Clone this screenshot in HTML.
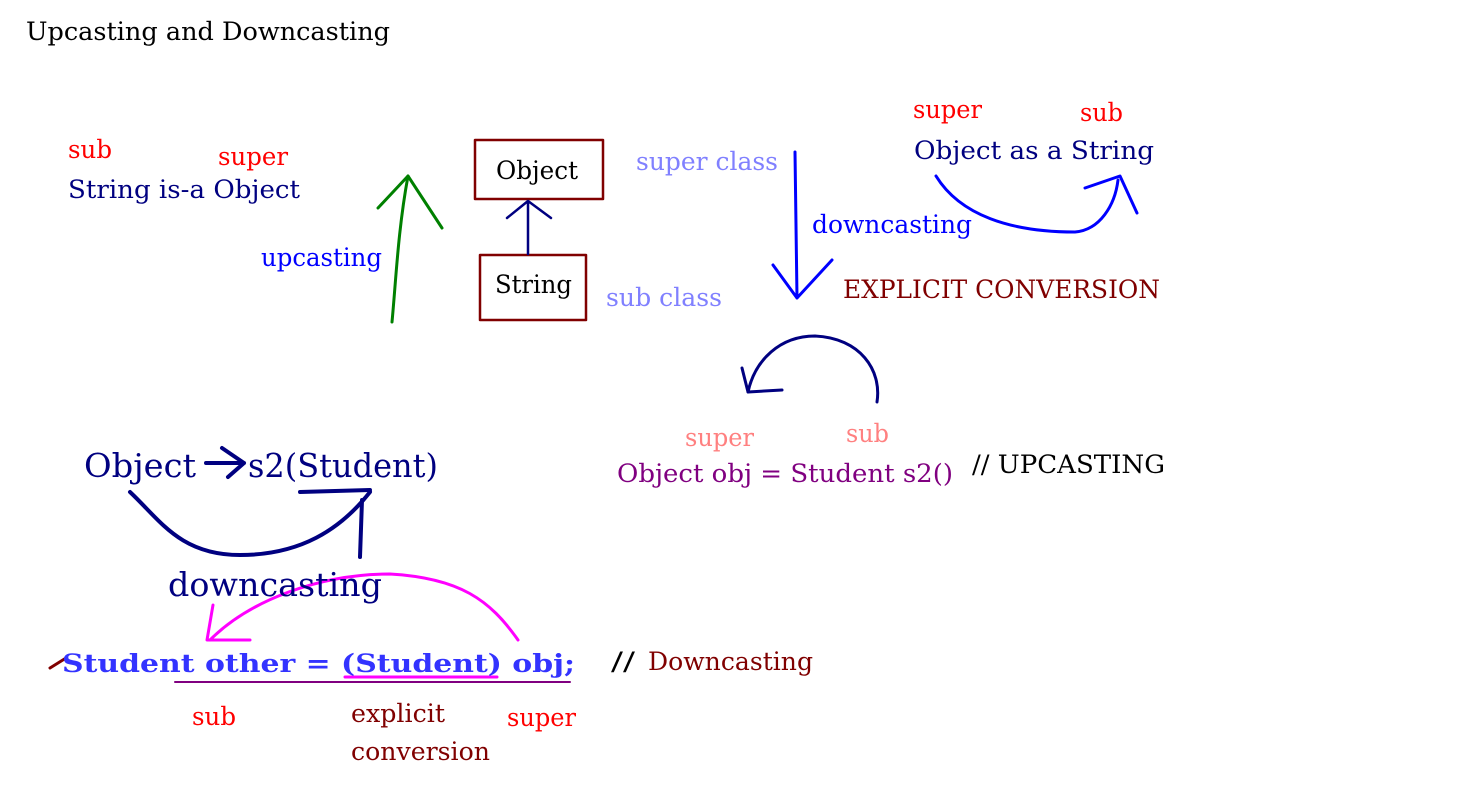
<!DOCTYPE html>
<html><head><meta charset="utf-8"><style>
html,body{margin:0;padding:0;background:#fff;}
svg{display:block;}
text{font-family:"DejaVu Serif","Liberation Serif",serif;font-size:25px;}
</style></head><body>
<svg width="1481" height="795" viewBox="0 0 1481 795" xmlns="http://www.w3.org/2000/svg">
<g fill="none" stroke-linecap="round" stroke-linejoin="round">
<path d="M392,322 C396,280 398,230 408,176" stroke="#008000" stroke-width="3"/>
<path d="M378,208 L408,176 L442,228" stroke="#008000" stroke-width="3"/>
<rect x="475" y="140" width="128" height="59" stroke="#800000" stroke-width="2.5"/>
<rect x="480" y="255" width="106" height="65" stroke="#800000" stroke-width="2.5"/>
<path d="M528,254 L528,201 M507,218 L528,201 L551,218" stroke="#000080" stroke-width="2.5"/>
<path d="M795,152 L797,298 M773,265 L797,298 L832,260" stroke="#0000ff" stroke-width="3"/>
<path d="M936,176 C960,215 1010,232 1075,232 C1100,230 1115,205 1118,180" stroke="#0000ff" stroke-width="3"/>
<path d="M1085,188 L1120,176 L1137,213" stroke="#0000ff" stroke-width="3"/>
<path d="M877,402 C882,370 860,338 815,336 C780,336 755,360 748,392" stroke="#000080" stroke-width="3"/>
<path d="M742,368 L748,392 L782,390" stroke="#000080" stroke-width="3"/>
<path d="M206,463 L244,463 M222,448 L244,463 L228,477" stroke="#000080" stroke-width="4"/>
<path d="M130,492 C160,520 180,555 240,555 C300,555 340,530 370,492" stroke="#000080" stroke-width="4"/>
<path d="M300,492 L370,490 M360,557 L362,500" stroke="#000080" stroke-width="4"/>
<path d="M518,640 C490,600 460,578 390,574 C320,574 250,600 210,640" stroke="#ff00ff" stroke-width="3"/>
<path d="M213,605 L207,640 L250,640" stroke="#ff00ff" stroke-width="3"/>
<path d="M175,682 L570,682" stroke="#800080" stroke-width="2"/>
<path d="M345,677 L497,677" stroke="#ff00ff" stroke-width="3"/>
<path d="M50,668 L66,658" stroke="#800000" stroke-width="3"/>
</g>
<g lengthAdjust="spacingAndGlyphs">
<text x="26" y="40" fill="#000" textLength="364" lengthAdjust="spacingAndGlyphs">Upcasting and Downcasting</text>
<text x="68" y="158" fill="#ff0000" textLength="44" lengthAdjust="spacingAndGlyphs">sub</text>
<text x="218" y="165" fill="#ff0000" textLength="70" lengthAdjust="spacingAndGlyphs">super</text>
<text x="68" y="198" fill="#000080" textLength="232" lengthAdjust="spacingAndGlyphs">String is-a Object</text>
<text x="261" y="266" fill="#0000ff" textLength="121" lengthAdjust="spacingAndGlyphs">upcasting</text>
<text x="496" y="179" fill="#000" textLength="82" lengthAdjust="spacingAndGlyphs">Object</text>
<text x="495" y="293" fill="#000" textLength="77" lengthAdjust="spacingAndGlyphs">String</text>
<text x="636" y="170" fill="#8080ff" textLength="142" lengthAdjust="spacingAndGlyphs">super class</text>
<text x="606" y="306" fill="#8080ff" textLength="116" lengthAdjust="spacingAndGlyphs">sub class</text>
<text x="812" y="233" fill="#0000ff" textLength="160" lengthAdjust="spacingAndGlyphs">downcasting</text>
<text x="843" y="298" fill="#800000" textLength="317" lengthAdjust="spacingAndGlyphs">EXPLICIT CONVERSION</text>
<text x="913" y="118" fill="#ff0000" textLength="69" lengthAdjust="spacingAndGlyphs">super</text>
<text x="1080" y="121" fill="#ff0000" textLength="43" lengthAdjust="spacingAndGlyphs">sub</text>
<text x="914" y="159" fill="#000080" textLength="240" lengthAdjust="spacingAndGlyphs">Object as a String</text>
<text x="685" y="446" fill="#ff8080" textLength="69" lengthAdjust="spacingAndGlyphs">super</text>
<text x="846" y="442" fill="#ff8080" textLength="43" lengthAdjust="spacingAndGlyphs">sub</text>
<text x="617" y="482" fill="#800080" textLength="336" lengthAdjust="spacingAndGlyphs">Object obj = Student s2()</text>
<text x="972" y="473" fill="#000" textLength="193" lengthAdjust="spacingAndGlyphs">// UPCASTING</text>
<text x="84" y="477" fill="#000080" style="font-size:33px" textLength="112" lengthAdjust="spacingAndGlyphs">Object</text>
<text x="248" y="477" fill="#000080" style="font-size:33px" textLength="190" lengthAdjust="spacingAndGlyphs">s2(Student)</text>
<text x="168" y="596" fill="#000080" style="font-size:33px" textLength="214" lengthAdjust="spacingAndGlyphs">downcasting</text>
<text x="62" y="672" fill="#3333ff" style="font-weight:bold" textLength="513" lengthAdjust="spacingAndGlyphs">Student other = (Student) obj;</text>
<text x="192" y="725" fill="#ff0000" textLength="44" lengthAdjust="spacingAndGlyphs">sub</text>
<text x="351" y="722" fill="#800000" textLength="94" lengthAdjust="spacingAndGlyphs">explicit</text>
<text x="351" y="760" fill="#800000" textLength="139" lengthAdjust="spacingAndGlyphs">conversion</text>
<text x="507" y="726" fill="#ff0000" textLength="69" lengthAdjust="spacingAndGlyphs">super</text>
<text x="611" y="670" fill="#000" textLength="24" lengthAdjust="spacingAndGlyphs">//</text>
<text x="648" y="670" fill="#800000" textLength="165" lengthAdjust="spacingAndGlyphs">Downcasting</text>
</g>
</svg>
</body></html>
